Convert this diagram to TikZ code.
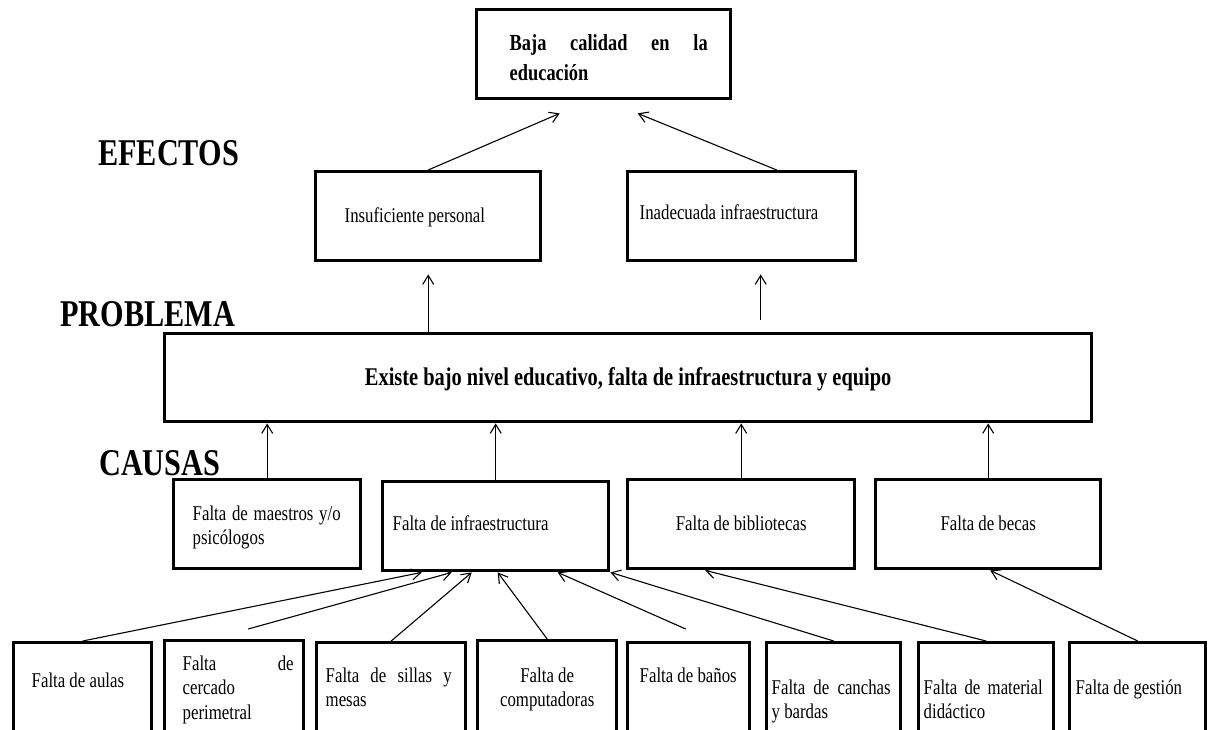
\documentclass[tikz,border=0pt]{standalone}
\usepackage{fontspec}
\setmainfont{Liberation Serif}
\usepackage{graphicx}
\usetikzlibrary{
    arrows.meta,
    calc
}
\tikzset{
    box/.style={draw, line width=3.4pt, inner sep=0pt, anchor=north west},
    linkarrow/.style={-{Straight Barb[length=9pt, width=11pt]}, line width=1.1pt},
    heading/.style={font=\fontsize{37.8}{40}\selectfont\bfseries, inner sep=0pt, anchor=west},
    bodytext/.style={font=\fontsize{21}{24.5}\selectfont},
    boldtext/.style={font=\fontsize{23}{30}\selectfont\bfseries},
    problemtext/.style={font=\fontsize{25.5}{30}\selectfont\bfseries}
}
\newcommand{\nar}[1]{\scalebox{0.8}[1]{#1}}
\newcommand{\inbox}[3]{\nar{\parbox[c][#2pt][t]{\dimexpr#1pt*5/4\relax}{#3}}}
\newcommand{\hx}[1]{\hspace*{\dimexpr#1pt*5/4\relax}}
\newcommand{\jl}[2]{\makebox[\dimexpr#1pt*5/4\relax][s]{#2}}

\begin{document}
\begin{tikzpicture}[x=1pt, y=-1pt]
    \path[use as bounding box, fill=white] (0,0) rectangle (1208,730);

    \node[heading] (efectos) at (98,153) {\nar{EFECTOS}};
    \node[heading] (problema) at (60,314) {\nar{PROBLEMA}};
    \node[heading] (causas) at (99,463) {\nar{CAUSAS}};

    \node[box, boldtext] (baja) at (475,8) {\inbox{254}{89}{\vspace*{25pt}\hx{33}\jl{198}{Baja calidad en la}\\\hx{33}educación}};
    \node[box, bodytext] (insuf) at (314,170) {\inbox{225}{89}{\vspace*{36pt}\hx{29}Insuficiente personal}};
    \node[box, bodytext] (inad) at (626,170) {\inbox{228}{89}{\vspace*{33pt}\hx{12}Inadecuada infraestructura}};
    \node[box, problemtext] (prob) at (163,332) {\inbox{927}{88}{\vspace*{34pt}\centering Existe bajo nivel educativo, falta de infraestructura y equipo}};

    \node[box, bodytext] (maestros) at (172,478) {\inbox{187}{89}{\vspace*{26pt}\hx{19}\jl{148}{Falta de maestros y/o}\\\hx{19}psicólogos}};
    \node[box, bodytext] (infra) at (381,480) {\inbox{226}{89}{\vspace*{34pt}\hx{10}Falta de infraestructura}};
    \node[box, bodytext] (biblio) at (626,478) {\inbox{227}{89}{\vspace*{36pt}\centering Falta de bibliotecas}};
    \node[box, bodytext] (becas) at (874,478) {\inbox{225}{89}{\vspace*{36pt}\centering Falta de becas}};

    \node[box, bodytext] (aulas) at (12,641) {\inbox{138}{100}{\vspace*{30pt}\hx{18}Falta de aulas}};
    \node[box, bodytext] (cercado) at (163,639) {\inbox{139}{100}{\vspace*{15pt}\hx{18}\jl{111}{Falta de}\\\hx{18}cercado\\\hx{18}perimetral}};
    \node[box, bodytext] (sillas) at (315,641) {\inbox{149}{100}{\vspace*{25pt}\hx{9}\jl{126}{Falta de sillas y}\\\hx{9}mesas}};
    \node[box, bodytext] (compu) at (476,639) {\inbox{139}{100}{\vspace*{27pt}\centering Falta de\\computadoras}};
    \node[box, bodytext] (banos) at (626,641) {\inbox{122}{100}{\vspace*{25pt}\hx{12}Falta de baños}};
    \node[box, bodytext] (canchas) at (765,641) {\inbox{134}{100}{\vspace*{37pt}\hx{5}\jl{119}{Falta de canchas}\\\hx{5}y bardas}};
    \node[box, bodytext] (material) at (917,641) {\inbox{135}{100}{\vspace*{37pt}\hx{5}\jl{119}{Falta de material}\\\hx{5}didáctico}};
    \node[box, bodytext] (gestion) at (1068,641) {\inbox{136}{100}{\vspace*{37pt}\hx{6}Falta de gestión}};

    \coordinate (bajaleft) at ($(baja.south)+(-44,13)$);
    \coordinate (bajaright) at ($(baja.south)+(34,13)$);
    \coordinate (inadtop) at ($(inad.north)+(35,0)$);
    \coordinate (inadlow) at ($(inad.south)+(19,0)$);
    \coordinate (cercadotop) at ($(cercado.north)+(14,-10)$);
    \coordinate (banostop) at ($(banos.north)+(-3,-12)$);

    \draw[linkarrow] (insuf.north) -- (bajaleft);
    \draw[linkarrow] (inadtop) -- (bajaright);
    \draw[linkarrow, shorten >=12pt] (prob.north -| insuf) -- (insuf.south);
    \draw[linkarrow, shorten <=12pt, shorten >=12pt] (prob.north -| inadlow) -- (inadlow);

    \foreach \c in {maestros, infra, biblio, becas}
        \draw[linkarrow] (\c.north) -- (\c.north |- prob.south);

    \foreach \s/\dx in {aulas/-74, sillas/-24, compu/2}
        \draw[linkarrow] (\s.north) -- ($(infra.south)+(\dx,0)$);
    \draw[linkarrow] (cercadotop) -- ($(infra.south)+(-44,0)$);
    \draw[linkarrow] (banostop) -- ($(infra.south)+(62,0)$);
    \draw[linkarrow] (canchas.north) -- (infra.south east);
    \draw[linkarrow] (material.north) -- ($(biblio.south)+(-36,0)$);
    \draw[linkarrow] (gestion.north) -- ($(becas.south)+(2,0)$);
\end{tikzpicture}
\end{document}
